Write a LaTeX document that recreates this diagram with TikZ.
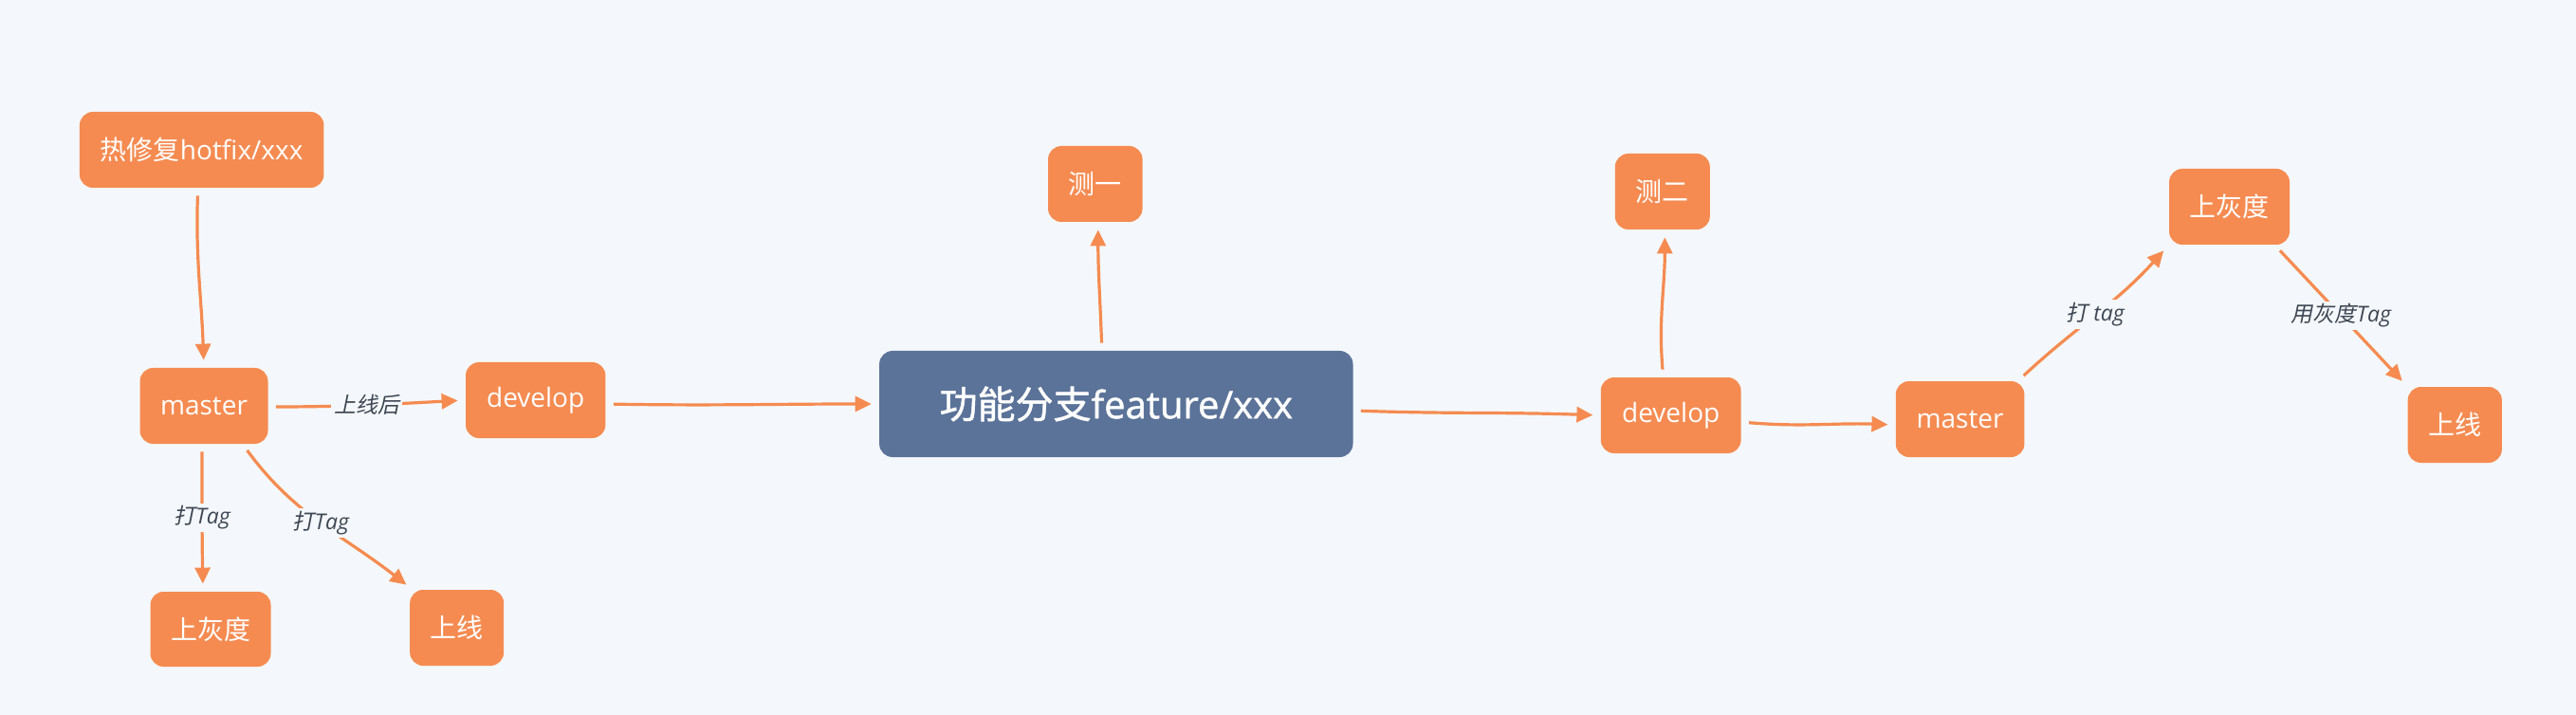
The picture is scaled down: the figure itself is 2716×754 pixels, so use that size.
\documentclass[tikz,border=0pt]{standalone}
\usepackage{fontspec}
\setmainfont{Open Sans}
\newfontfamily\cjk{Noto Sans CJK SC}
\newfontfamily\cjki[FakeSlant=0.2]{Noto Sans CJK SC}
\newfontfamily\featlat[FakeBold=1.2]{Open Sans}
\newfontfamily\featcjk[FakeBold=1.2]{Noto Sans CJK SC}
\usetikzlibrary{arrows.meta}
\definecolor{bgc}{HTML}{F4F8FC}
\definecolor{org}{HTML}{F58B51}
\definecolor{blu}{HTML}{5B7399}
\definecolor{lbl}{HTML}{3E4653}
\tikzset{
  obox/.style={fill=org, rounded corners=7pt, inner sep=0pt, text=white, minimum height=40pt, font=\fontsize{14}{16}\selectfont},
  fbox/.style={fill=blu, rounded corners=7pt, inner sep=0pt, text=white, font=\fontsize{20}{23}\selectfont},
  conn/.style={draw=org, line width=1.6pt, -{Triangle[length=8.5pt,width=8pt]}, shorten <=4pt, shorten >=4pt},
  elab/.style={fill=bgc, text=lbl, inner sep=1.5pt, font=\fontsize{11.5}{13}\selectfont\itshape}
}
\begin{document}
\begin{tikzpicture}[x=0.5pt,y=-0.5pt]
\useasboundingbox[fill=bgc] (0,0) rectangle (2716,754);
% nodes
\node[obox, minimum width=128.75pt] (hotfix) at (212.7,158) {{\cjk 热修复}hotfix/xxx};
\node[obox, minimum width=67.5pt] (m1) at (215,428) {master};
\node[obox, minimum width=73.7pt] (d1) at (564.7,422) {develop};
\node[obox, minimum width=63.5pt, minimum height=39.5pt] (g1) at (222,663.5) {\cjk 上灰度};
\node[obox, minimum width=49.5pt] (s1) at (481.7,662) {\cjk 上线};
\node[fbox, minimum width=249.7pt, minimum height=56pt] (feat) at (1176.8,426) {{\featcjk 功能分支}{\featlat feature/xxx}};
\node[obox, minimum width=49.75pt] (t1) at (1154.8,194) {\cjk 测一};
\node[obox, minimum width=50pt] (t2) at (1752.8,202) {\cjk 测二};
\node[obox, minimum width=73.9pt] (d2) at (1761.7,438) {develop};
\node[obox, minimum width=67.8pt] (m2) at (2066.6,442) {master};
\node[obox, minimum width=63.5pt] (g2) at (2350.5,218) {\cjk 上灰度};
\node[obox, minimum width=49.6pt] (s2) at (2588.2,448) {\cjk 上线};
% connectors
\draw[conn] ([xshift=-2pt]hotfix.south) to[out=-92,in=92] (m1.north);
\draw[conn] ([yshift=-0.5pt]m1.east) to[out=0,in=183] node[elab] {\cjki 上线后} (d1.west);
\draw[conn] ([xshift=-1pt]m1.south) to[out=-90,in=91] node[elab] {{\cjki 打}Tag} ([xshift=-4pt]g1.north);
\draw[conn] ([xshift=-13.5pt]m1.south east) to[out=-54,in=142] node[elab, pos=0.5] {{\cjki 打}Tag} ([xshift=1.5pt]s1.north west);
\draw[conn] ([yshift=-2pt]d1.east) to[out=-1,in=180] (feat.west);
\draw[conn] ([xshift=-7.5pt]feat.north) to[out=92,in=-90] ([xshift=1.5pt]t1.south);
\draw[conn] ([yshift=-3.5pt]feat.east) to[out=-2,in=178] (d2.west);
\draw[conn] ([xshift=-4pt]d2.north) to[out=95,in=-90] ([xshift=1.25pt]t2.south);
\draw[conn] ([yshift=-3.5pt]d2.east) to[out=-5,in=178] ([yshift=-3pt]m2.west);
\draw[conn] ([xshift=-3.5pt]m2.north east) to[out=43,in=-132] node[elab] {{\cjki 打} tag} (g2.south west);
\draw[conn] ([xshift=-8pt]g2.south east) -- node[elab] {{\cjki 用灰度}Tag} (s2.north west);
\end{tikzpicture}
\end{document}
